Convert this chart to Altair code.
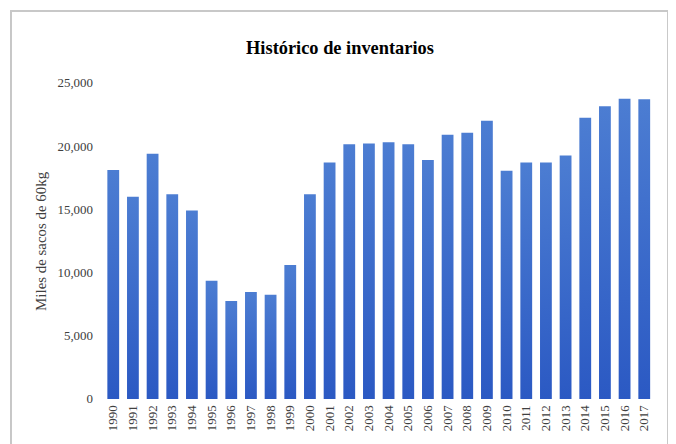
import altair as alt
import pandas as pd

years = [str(y) for y in range(1990, 2018)]
values = [18100, 16000, 19400, 16200, 14900, 9350, 7750, 8450, 8250, 10600,
          16200, 18700, 20150, 20200, 20300, 20150, 18900, 20900, 21050, 22000,
          18050, 18700, 18700, 19250, 22250, 23150, 23750, 23700]

df = pd.DataFrame({"year": years, "value": values})

FONT = "Liberation Serif"

bars = alt.Chart(df).mark_bar(
    color={
        "gradient": "linear",
        "x1": 0, "y1": 0, "x2": 0, "y2": 1,
        "stops": [
            {"offset": 0, "color": "#4c7dd2"},
            {"offset": 1, "color": "#2b59c3"},
        ],
    }
).encode(
    x=alt.X("year:N", sort=years, title=None,
            scale=alt.Scale(paddingInner=0.4, paddingOuter=0.2),
            axis=alt.Axis(labelAngle=-90, labelFont=FONT, labelFontSize=13,
                          labelColor="#404040", ticks=False, domain=False,
                          labelPadding=6, labelBaseline="middle", labelAlign="right")),
    y=alt.Y("value:Q", title="Miles de sacos de 60kg",
            scale=alt.Scale(domain=[0, 25000]),
            axis=alt.Axis(values=[0, 5000, 10000, 15000, 20000, 25000], format=",.0f",
                          labelFont=FONT, labelFontSize=13, labelColor="#404040",
                          titleFont=FONT, titleFontSize=15, titleFontWeight="normal",
                          titleColor="#404040", ticks=False, domain=False, grid=False,
                          labelPadding=11, titlePadding=9)),
)

frame = alt.Chart(df).mark_rect(fill=None, stroke="#c8c8c8", strokeWidth=1.5).encode(
    x=alt.value(-93), x2=alt.value(568), y=alt.value(-72), y2=alt.value(420)
)

chart = alt.layer(frame, bars).properties(
    width=554,
    height=318,
    title=alt.TitleParams("Histórico de inventarios", font=FONT, fontSize=18.5,
                          fontWeight="bold", color="#000000", anchor="middle",
                          frame="group", offset=-47, dx=-39),
    autosize=alt.AutoSizeParams(type="none"),
    padding={"left": 96, "top": 74, "right": 14, "bottom": 44},
).configure_view(stroke=None)

chart.save("out.html", embed_options={"renderer": "svg", "actions": False})
